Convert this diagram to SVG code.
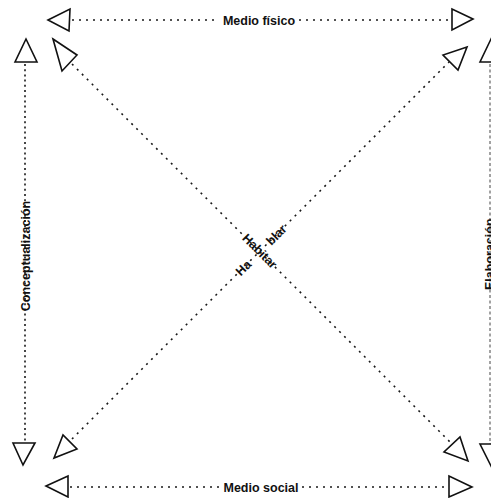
<svg xmlns="http://www.w3.org/2000/svg" width="491" height="498" viewBox="0 0 491 498">
<style>
.bg{fill:#fff}
.dot{stroke:#1a1a1a;stroke-width:1.6;fill:none;stroke-dasharray:2 5}
.dotv{stroke:#1a1a1a;stroke-width:1.6;fill:none;stroke-dasharray:2 3.2}
.dash{stroke:#444;stroke-width:1;fill:none;stroke-dasharray:3 2.5}
.head{fill:#fff;stroke:#111;stroke-width:1.6;stroke-linejoin:miter}
.lbl{font-family:"Liberation Sans",Arial,sans-serif;font-weight:bold;font-size:12.5px;fill:#111}
</style>
<rect class="bg" x="0" y="0" width="491" height="498"/>
<g id="connectors">
  <line class="dot" x1="72" y1="20" x2="219" y2="20"/>
  <line class="dot" x1="299" y1="20" x2="450" y2="20"/>
  <line class="dot" x1="70" y1="487" x2="221" y2="487"/>
  <line class="dot" x1="302" y1="487" x2="448" y2="487"/>
  <line class="dotv" x1="25" y1="64" x2="25" y2="442"/>
  <line class="dash" x1="490" y1="64" x2="490" y2="444"/>
  <line class="dot" x1="72" y1="64" x2="450" y2="442"/>
  <line class="dot" x1="72" y1="439" x2="449" y2="62"/>
  <polygon class="head" points="48,20 70,9 69,31"/>
  <polygon class="head" points="473,19 452,9 452,30"/>
  <polygon class="head" points="46,486 68,476 68,497"/>
  <polygon class="head" points="472,487 449,476 449,497"/>
  <polygon class="head" points="26,39 15,62 37,62"/>
  <polygon class="head" points="23,465 13,443 35,443"/>
  <polygon class="head" points="491,39 480,62 502,62"/>
  <polygon class="head" points="491,466 480,444 502,444"/>
  <polygon class="head" points="53,39 77,55 62,71"/>
  <polygon class="head" points="468,461 460,437 444,452"/>
  <polygon class="head" points="467,47 443,55 458,70"/>
  <polygon class="head" points="54,458 63,435 77,449"/>
</g>
<g id="medio-fisico">
  <text class="lbl" x="259" y="24.5" text-anchor="middle">Medio físico</text>
</g>
<g id="medio-social">
  <text class="lbl" x="261" y="491.5" text-anchor="middle">Medio social</text>
</g>
<g id="conceptualizacion">
  <text class="lbl" transform="translate(30,256) rotate(-90)" text-anchor="middle">Conceptualización</text>
</g>
<g id="elaboracion">
  <text class="lbl" transform="translate(494,290) rotate(-90)" text-anchor="start">Elaboración</text>
</g>
<g id="habitar">
  <text class="lbl" transform="translate(260,251) rotate(45)" text-anchor="middle" dy="4.5">Habitar</text>
</g>
<g id="hablar">
  <text class="lbl" transform="translate(261,250) rotate(-45)" x="-33" dy="4.5"><tspan>Ha</tspan><tspan dx="27">blar</tspan></text>
</g>
</svg>
